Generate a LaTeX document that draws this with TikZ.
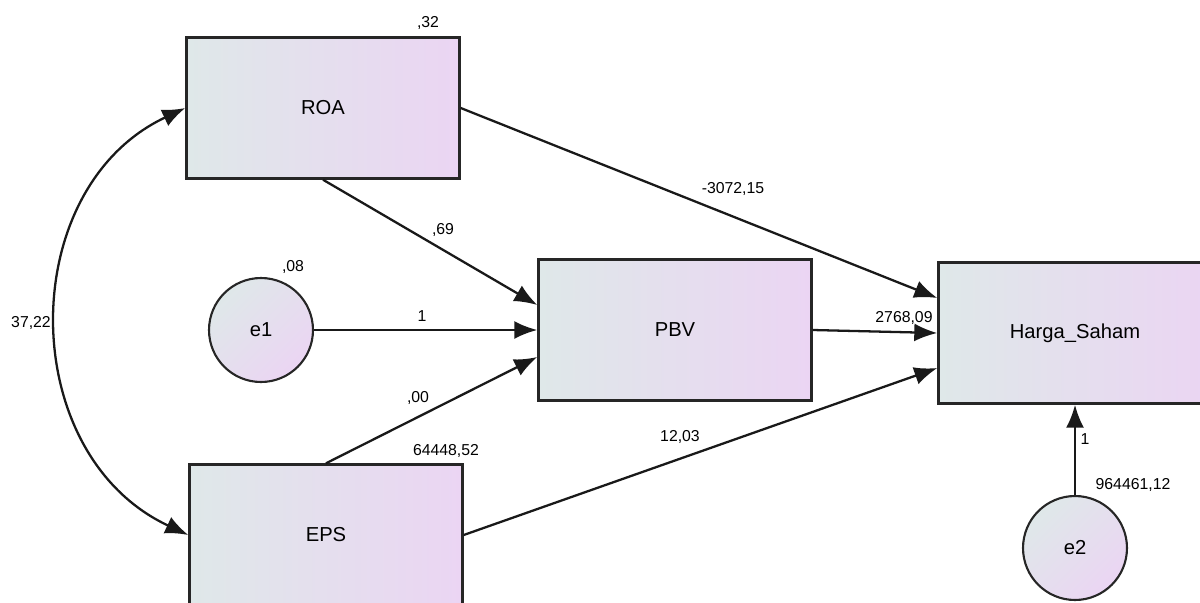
\documentclass[tikz,border=0pt]{standalone}
\usepackage{fontspec}
\setmainfont{Liberation Sans}
\usetikzlibrary{arrows.meta,calc}
\definecolor{boxleft}{HTML}{DFE8E9}
\definecolor{boxright}{HTML}{EBD5F3}
\tikzset{
  obsvar/.style={draw=black!85, line width=1.4pt, left color=boxleft, right color=boxright,
    minimum width=5.46cm, minimum height=2.82cm, font=\fontsize{11.5}{13}\selectfont},
  errvar/.style={circle, draw=black!85, line width=1.2pt, top color=boxleft, bottom color=boxright,
    shading angle=45, minimum size=2.08cm, inner sep=0pt, font=\fontsize{11.5}{13}\selectfont},
  regarrow/.style={-{Latex[length=0.46cm,width=0.36cm]}, line width=1.3pt, black!90},
  estlabel/.style={font=\fontsize{9}{10}\selectfont, inner sep=1pt}
}
\begin{document}
\begin{tikzpicture}[x=0.02cm, y=-0.02cm]
    \useasboundingbox (0,0) rectangle (1200,602);
    % variabel
    \node[obsvar] (roa) at (323,108) {ROA};
    \node[obsvar] (pbv) at (675,330) {PBV};
    \node[obsvar] (hs) at (1075,333) {Harga\_Saham};
    \node[obsvar] (eps) at (326,535) {EPS};
    \node[errvar] (e1) at (261,330) {e1};
    \node[errvar] (e2) at (1075,548) {e2};
    % jalur
    \draw[regarrow] (roa.south) -- ($(pbv.west)+(0,-25)$);
    \draw[regarrow] (e1.east) -- (pbv.west);
    \draw[regarrow] (eps.north) -- ($(pbv.west)+(0,27)$);
    \draw[regarrow] (roa.east) -- ($(hs.west)+(0,-35)$);
    \draw[regarrow] (pbv.east) -- (hs.west);
    \draw[regarrow] (eps.east) -- ($(hs.west)+(0,35)$);
    \draw[regarrow] (e2.north) -- (hs.south);
    \draw[{Latex[length=0.46cm,width=0.36cm]}-{Latex[length=0.46cm,width=0.36cm]}, line width=1.3pt, black!90]
        (roa.west) .. controls (15,188) and (15,454) .. (eps.west);
    % estimasi
    \node[estlabel] (vroa) at (428,23) {,32};
    \node[estlabel] (ve1) at (293,267) {,08};
    \node[estlabel] (veps) at (446,451) {64448,52};
    \node[estlabel] (ve2) at (1133,485) {964461,12};
    \node[estlabel] (cov) at (31,323) {37,22};
    \node[estlabel] (wroapbv) at (443,230) {,69};
    \node[estlabel] (we1) at (422,316) {1};
    \node[estlabel] (wepspbv) at (418,398) {,00};
    \node[estlabel] (wroahs) at (733,189) {-3072,15};
    \node[estlabel] (wpbvhs) at (904,318) {2768,09};
    \node[estlabel] (wepshs) at (680,437) {12,03};
    \node[estlabel] (we2) at (1085,439) {1};
\end{tikzpicture}
\end{document}
